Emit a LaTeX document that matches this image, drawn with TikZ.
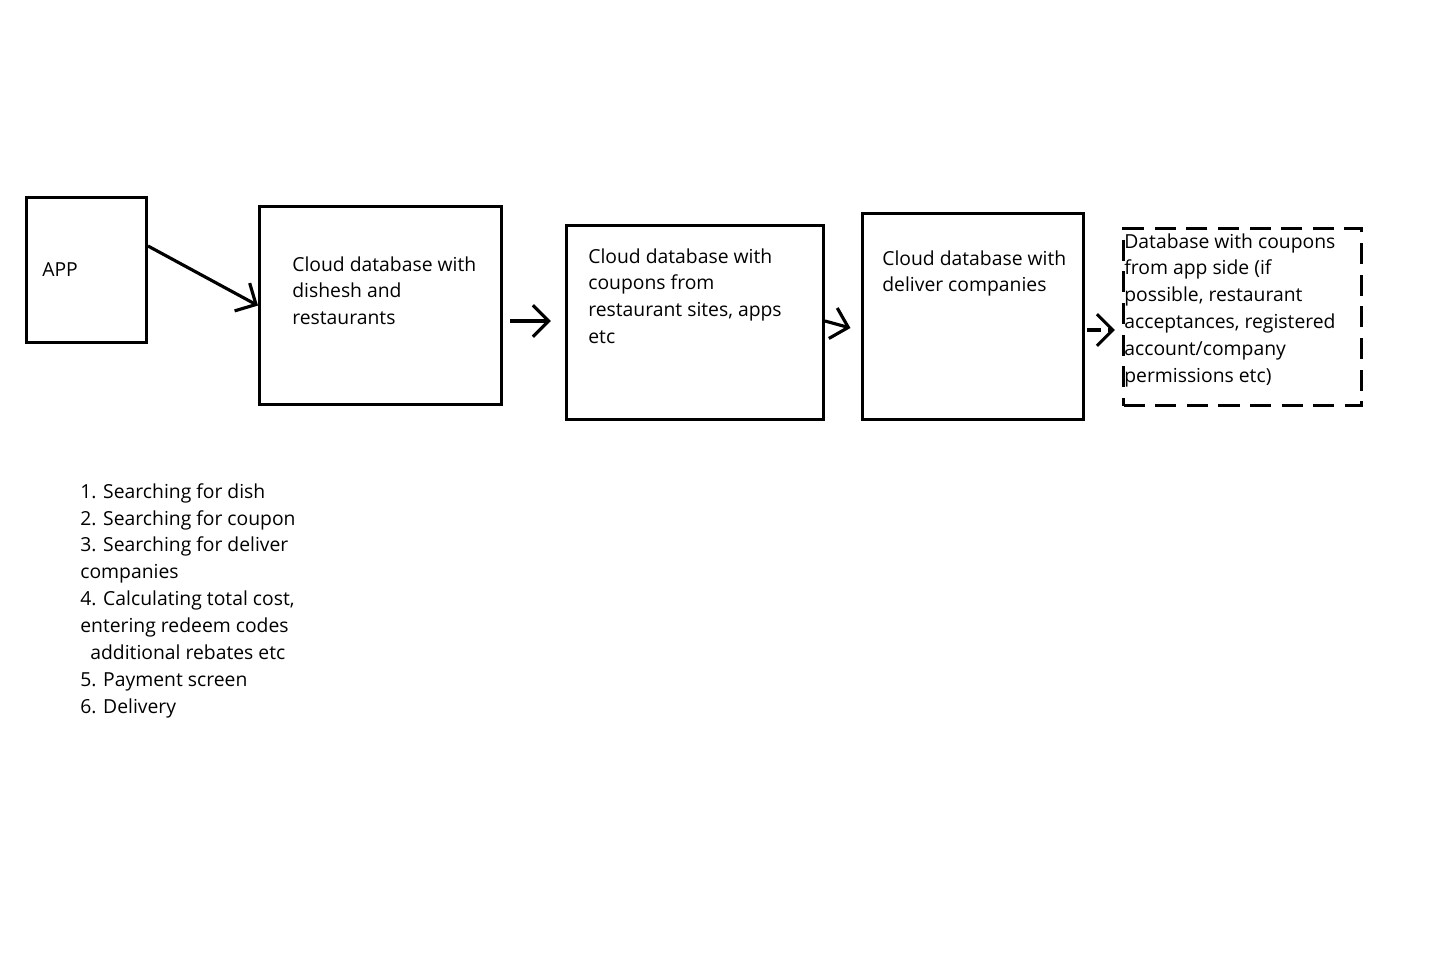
\documentclass[tikz,border=0pt]{standalone}
\usepackage{fontspec}
\setmainfont{Open Sans}
\usetikzlibrary{arrows.meta}
\begin{document}
\begin{tikzpicture}[x=0.02cm,y=-0.02cm,
  box/.style={draw,line width=1.8pt,anchor=north west,inner sep=0pt},
  txt/.style={anchor=north west,align=left,inner sep=0pt,font=\fontsize{11}{15.3}\selectfont},
  flow/.style={line width=1.8pt,-{Straight Barb[length=9pt,width=18pt,line width=1.8pt]}}]
\useasboundingbox (0,0) rectangle (1445,974);
% boxes
\node[box,minimum width=120*0.02cm,minimum height=145*0.02cm] (app) at (25,196) {};
\node[box,minimum width=242*0.02cm,minimum height=198*0.02cm] (dish) at (258,205) {};
\node[box,minimum width=257*0.02cm,minimum height=194*0.02cm] (coup) at (565,224) {};
\node[box,minimum width=221*0.02cm,minimum height=206*0.02cm] (deliv) at (861,212) {};
\node[box,dashed,dash pattern=on 12pt off 6pt,minimum width=238*0.02cm,minimum height=177*0.02cm] (appdb) at (1122,227) {};
% texts
\node[txt] (tapp) at (42,262) {APP};
\node[txt] (tdish) at (292,256) {Cloud database with\\dishesh and\\restaurants};
\node[txt] (tcoup) at (588,248) {Cloud database with\\coupons from\\restaurant sites, apps\\etc};
\node[txt] (tdeliv) at (882,250) {Cloud database with\\deliver companies};
\node[txt] (tappdb) at (1124,233) {Database with coupons\\from app side (if\\possible, restaurant\\acceptances, registered\\account/company\\permissions etc)};
\node[txt] (steps) at (80,483) {1. Searching for dish\\2. Searching for coupon\\3. Searching for deliver\\companies\\4. Calculating total cost,\\entering redeem codes\\\hspace*{10\pgflinewidth}\hspace{-10\pgflinewidth}\ \ additional rebates etc\\5. Payment screen\\6. Delivery};
% arrows
\coordinate (a1) at (148,246);
\draw[flow] (a1) -- (dish.west);
\coordinate (a2) at (510,321);
\draw[flow] (a2) -- ([xshift=-8pt]coup.west |- a2);
\coordinate (a3) at (825,321);
\draw[flow] (a3) -- ([xshift=-6pt]deliv.west |- 0,328);
\coordinate (a4) at (1087,330);
\draw[flow,dashed,dash pattern=on 8pt off 4pt] (a4) -- ([xshift=-4pt]appdb.west |- a4);
\end{tikzpicture}
\end{document}
